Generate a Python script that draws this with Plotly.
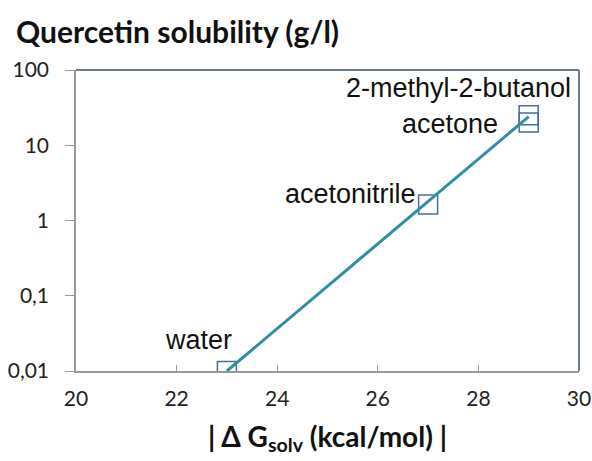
import math
import plotly.graph_objects as go

solvents = ["water", "acetonitrile", "acetone", "2-methyl-2-butanol"]
dg_solv = [23, 27, 29, 29]
solubility = [0.01, 1.63, 20, 25]

line_x = [23, 29]
line_y = [0.01, 24]

y_tickvals = [0.01, 0.1, 1, 10, 100]
y_ticktext = ["0,01", "0,1", "1", "10", "100"]
x_tickvals = [20, 22, 24, 26, 28, 30]

label_style = {
    "water": dict(xanchor="center", xshift=-28, yshift=31),
    "acetonitrile": dict(xanchor="right", xshift=-10, yshift=11),
    "acetone": dict(xanchor="right", xshift=-29, yshift=-1),
    "2-methyl-2-butanol": dict(xanchor="center", xshift=-70, yshift=27),
}

fig = go.Figure()
fig.add_trace(go.Scatter(
    x=dg_solv, y=solubility, mode="markers",
    marker=dict(symbol="square-open", size=19, color="#4a6aa5", line=dict(width=1.5)),
    showlegend=False, hoverinfo="skip"))
fig.add_trace(go.Scatter(
    x=line_x, y=line_y, mode="lines",
    line=dict(color="#2f8ea2", width=3), showlegend=False))

for name, x, y in zip(solvents, dg_solv, solubility):
    fig.add_annotation(x=x, y=math.log10(y), text=name, showarrow=False,
                       font=dict(family="Liberation Sans, Arial", size=27, color="#111"),
                       yanchor="middle", **label_style[name])

fig.add_annotation(xref="paper", yref="paper", x=-0.123, y=1.0, yshift=39,
                   text="<b>Quercetin solubility (g/l)</b>", showarrow=False,
                   xanchor="left", yanchor="middle",
                   font=dict(family="Lato, Open Sans", size=30, color="#111"))

fig.update_layout(
    width=592, height=461,
    margin=dict(l=76, r=13, t=70, b=90, autoexpand=False),
    paper_bgcolor="white", plot_bgcolor="white",
    font=dict(family="Lato, Open Sans", size=21, color="#222"),
    xaxis=dict(range=[20, 30], tickvals=x_tickvals, showgrid=False, zeroline=False,
               automargin=False,
               showline=True, linecolor="#999", linewidth=1.5, mirror=False,
               ticks="inside", ticklen=6, tickcolor="#999", ticklabelstandoff=8,
               title=dict(text="<b>| Δ G<sub>solv</sub> (kcal/mol) |</b>",
                          font=dict(family="Lato, Open Sans", size=28, color="#111"),
                          standoff=18)),
    yaxis=dict(type="log", range=[-2, 2], tickvals=y_tickvals, ticktext=y_ticktext,
               automargin=False,
               showgrid=False, zeroline=False, showline=True, linecolor="#999",
               linewidth=1.5, ticks="outside", ticklen=9, tickcolor="#999",
               ticklabelstandoff=12),
    shapes=[
        dict(type="line", xref="paper", yref="paper", x0=0, x1=1, y0=1, y1=1,
             line=dict(color="#6b7b8f", width=2)),
        dict(type="line", xref="paper", yref="paper", x0=1, x1=1, y0=0, y1=1,
             line=dict(color="#6b7b8f", width=2)),
    ],
)

fig.write_html("out.html", config={"displayModeBar": False},
               post_script="document.body.style.margin='0';document.body.style.overflow='hidden';")
